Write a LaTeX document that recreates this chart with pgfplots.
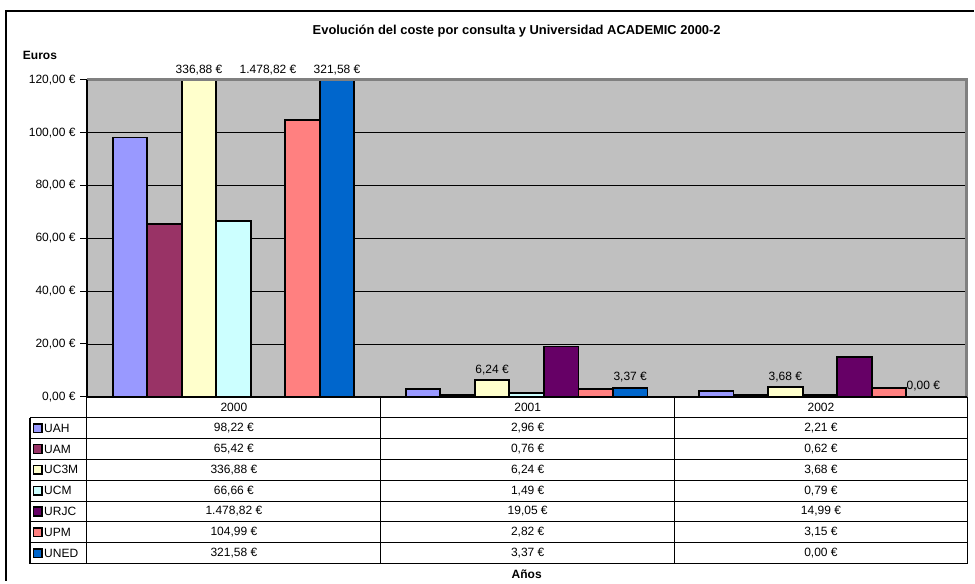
\documentclass[border=0pt]{standalone}
\usepackage{fontspec}
\setmainfont{Liberation Sans}
\usepackage{pgfplots}
\pgfplotsset{compat=1.18}
\definecolor{cUAH}{HTML}{9999FF}
\definecolor{cUAM}{HTML}{993366}
\definecolor{cUCTM}{HTML}{FFFFCC}
\definecolor{cUCM}{HTML}{CCFFFF}
\definecolor{cURJC}{HTML}{660066}
\definecolor{cUPM}{HTML}{FF8080}
\definecolor{cUNED}{HTML}{0066CC}
\definecolor{plotbg}{HTML}{C0C0C0}
\definecolor{bordergray}{HTML}{808080}
\newcommand\fs{\fontsize{9}{11}\selectfont}
\begin{document}
\begin{tikzpicture}
\begin{scope}[x=0.75pt,y=-0.75pt,shift={(-87,-397)}]
\useasboundingbox (0,0) rectangle (975,581);
\end{scope}
\begin{axis}[
  at={(0,0)}, anchor=south west,
  scale only axis, width=660pt, height=237.75pt,
  xmin=-0.5, xmax=2.5, ymin=0, ymax=120,
  ybar, bar width=25.9pt,
  axis background/.style={fill=plotbg},
  axis line style={draw=none},
  ytick={0,20,...,120},
  yticklabels={{0,00 €},{20,00 €},{40,00 €},{60,00 €},{80,00 €},{100,00 €},{120,00 €}},
  xtick=\empty,
  ymajorgrids, major grid style={black, line width=0.6pt},
  tick align=outside, ytick pos=left, major tick length=5pt,
  tick style={black, line width=0.8pt},
  tick label style={font=\fs},
  restrict y to domain*=0:120,
  clip=false,
  every axis plot/.append style={draw=black, line width=1.4pt},
  nodes near coords style={font=\fs, text=black},
]
\addplot[fill=cUAH, bar shift=-77.7pt] coordinates {(0,98.22) (1,2.96) (2,2.21)};
\addplot[fill=cUAM, bar shift=-51.8pt] coordinates {(0,65.42) (1,0.76) (2,0.62)};
\addplot[fill=cUCTM, bar shift=-25.9pt, nodes near coords, point meta=explicit symbolic]
  coordinates {(0,336.88) [336,88 €] (1,6.24) [6,24 €] (2,3.68) [3,68 €]};
\addplot[fill=cUCM, bar shift=0pt] coordinates {(0,66.66) (1,1.49) (2,0.79)};
\addplot[fill=cURJC, bar shift=25.9pt] coordinates {(1,19.05) (2,14.99)};
\addplot[draw=none, fill=none, bar shift=25.9pt, nodes near coords, point meta=explicit symbolic]
  coordinates {(0,1478.82) [1.478,82 €]};
\addplot[fill=cUPM, bar shift=51.8pt] coordinates {(0,104.99) (1,2.82) (2,3.15)};
\addplot[fill=cUNED, bar shift=77.7pt, nodes near coords, point meta=explicit symbolic]
  coordinates {(0,321.58) [321,58 €] (1,3.37) [3,37 €] (2,0.00) [0,00 €]};
\end{axis}
\begin{scope}[x=0.75pt,y=-0.75pt,shift={(-87,-397)}]
  % outer frame
  \draw[black, line width=0.9pt] (6,581) -- (6,11) -- (975,11);
  % plot area border
  \draw[bordergray, line width=2.2pt] (87,80) -- (967,80) -- (967,397);
  \draw[black, line width=1.3pt] (87,80) -- (87,397) -- (968,397);
  % titles
  \node[font=\fontsize{9.7}{12}\selectfont\bfseries] at (517,31) {Evolución del coste por consulta y Universidad ACADEMIC 2000-2};
  \node[font=\fs\bfseries] at (40,55) {Euros};
  \node[font=\fs\bfseries] at (527,575) {Años};
  % table grid
  \foreach \k in {0,...,7} \draw[black, line width=0.8pt] (30,{418+\k*20.857}) -- (968,{418+\k*20.857});
  \draw[black, line width=0.8pt] (30,418) -- (30,564);
  \foreach \xx in {87,381,675,968} \draw[black, line width=0.8pt] (\xx,397) -- (\xx,564);
  % header
  \node[font=\fs] at (234,408) {2000};
  \node[font=\fs] at (528,408) {2001};
  \node[font=\fs] at (821.5,408) {2002};
  % rows
  \foreach \nm/\col/\va/\vb/\vc [count=\k from 0] in {
      UAH/cUAH/{98,22 €}/{2,96 €}/{2,21 €},
      UAM/cUAM/{65,42 €}/{0,76 €}/{0,62 €},
      UC3M/cUCTM/{336,88 €}/{6,24 €}/{3,68 €},
      UCM/cUCM/{66,66 €}/{1,49 €}/{0,79 €},
      URJC/cURJC/{1.478,82 €}/{19,05 €}/{14,99 €},
      UPM/cUPM/{104,99 €}/{2,82 €}/{3,15 €},
      UNED/cUNED/{321,58 €}/{3,37 €}/{0,00 €}} {
    \pgfmathsetmacro\yy{428.4+\k*20.857}
    \draw[black, line width=1.1pt, fill=\col] (33.5,\yy-4.3) rectangle (42,\yy+4.3);
    \node[font=\fs, anchor=west, inner sep=0pt] at (44,\yy) {\nm};
    \node[font=\fs] at (234,\yy) {\va};
    \node[font=\fs] at (528,\yy) {\vb};
    \node[font=\fs] at (821.5,\yy) {\vc};
  }
\end{scope}
\end{tikzpicture}
\end{document}
